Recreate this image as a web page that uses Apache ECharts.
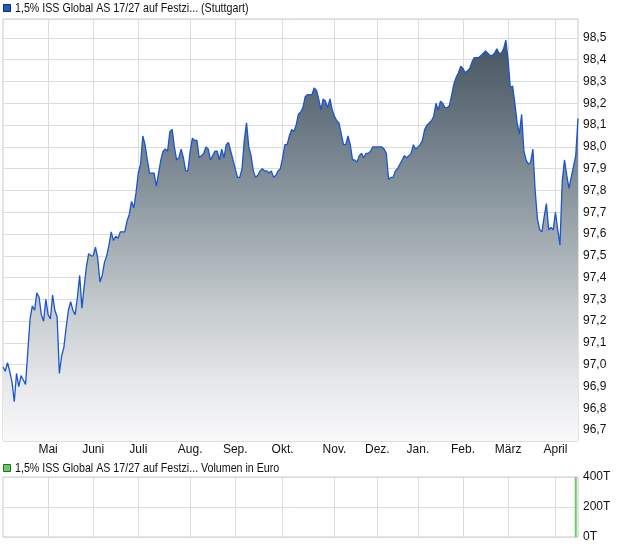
<!DOCTYPE html>
<html>
<head>
<meta charset="utf-8">
<script src="https://cdn.jsdelivr.net/npm/echarts/dist/echarts.min.js"></script>
<style>
html,body{margin:0;padding:0;background:#fff;}
#chart{width:620px;height:546px;}
</style>
</head>
<body>
<div id="chart"></div>
<script>
// ---- data ----
const seriesName = '1,5% ISS Global AS 17/27 auf Festzi... (Stuttgart)';
const volumeName = '1,5% ISS Global AS 17/27 auf Festzi... Volumen in Euro';

const priceValues = [
  96.99, 96.97, 97.01, 96.97, 96.92, 96.83, 96.96, 96.90, 96.95, 96.93,
  96.91, 97.06, 97.21, 97.27, 97.25, 97.33, 97.31, 97.23, 97.20, 97.30,
  97.23, 97.21, 97.32, 97.25, 97.22, 96.96, 97.04, 97.08, 97.17, 97.25,
  97.29, 97.25, 97.23, 97.31, 97.41, 97.26, 97.36, 97.45, 97.51, 97.50,
  97.50, 97.54, 97.49, 97.38, 97.41, 97.47, 97.50, 97.55, 97.61, 97.57,
  97.59, 97.58, 97.61, 97.61, 97.61, 97.66, 97.69, 97.75, 97.72, 97.79,
  97.88, 97.92, 98.05, 98.01, 97.94, 97.88, 97.88, 97.88, 97.82, 97.88,
  97.94, 97.98, 97.99, 97.98, 98.07, 98.08, 98.00, 97.94, 97.95, 97.99,
  97.95, 97.89, 97.89, 97.98, 98.04, 98.03, 98.03, 97.95, 97.96, 97.97,
  98.00, 97.99, 97.94, 97.96, 97.98, 97.98, 97.94, 97.99, 97.95, 98.01,
  98.02, 97.98, 97.94, 97.90, 97.86, 97.86, 97.90, 98.03, 98.11, 98.00,
  97.96, 97.89, 97.86, 97.87, 97.89, 97.90, 97.89, 97.89, 97.88, 97.89,
  97.86, 97.87, 97.89, 97.90, 97.95, 98.01, 98.01, 98.05, 98.08, 98.07,
  98.10, 98.15, 98.16, 98.18, 98.23, 98.24, 98.24, 98.24, 98.27, 98.26,
  98.22, 98.17, 98.22, 98.21, 98.18, 98.22, 98.17, 98.14, 98.12, 98.11,
  98.06, 98.01, 98.01, 98.05, 98.01, 97.94, 97.94, 97.93, 97.96, 97.97,
  97.95, 97.97, 97.97, 97.98, 98.00, 98.00, 98.00, 98.00, 98.00, 97.99,
  97.97, 97.85, 97.86, 97.86, 97.89, 97.90, 97.92, 97.94, 97.96, 97.95,
  97.96, 97.97, 98.01, 97.99, 98.00, 98.01, 98.03, 98.08, 98.10, 98.11,
  98.12, 98.14, 98.20, 98.17, 98.21, 98.20, 98.18, 98.18, 98.19, 98.24,
  98.29, 98.32, 98.34, 98.37, 98.36, 98.34, 98.35, 98.36, 98.39, 98.41,
  98.41, 98.41, 98.42, 98.43, 98.44, 98.43, 98.42, 98.42, 98.43, 98.45,
  98.43, 98.43, 98.45, 98.49, 98.40, 98.27, 98.28, 98.20, 98.11, 98.06,
  98.15, 97.98, 97.94, 97.92, 97.93, 97.99, 97.80, 97.67, 97.62, 97.61,
  97.68, 97.74, 97.62, 97.63, 97.62, 97.70, 97.62, 97.55, 97.84, 97.94,
  97.87, 97.81, 97.86, 97.91, 97.96, 98.13
];

// month labels and the trading-day index where each month starts
const monthLabels = ['Mai', 'Juni', 'Juli', 'Aug.', 'Sep.', 'Okt.', 'Nov.', 'Dez.', 'Jan.', 'Feb.', 'März', 'April'];
const monthStartIdx = [20, 40, 60, 83, 103, 124, 147, 166, 184, 204, 224, 245];

// volume (Euro): trading-day index and value
const volumeIdx = [254];
const volumeValues = [398000];

// price axis range and volume axis ticks
const priceMin = 96.65, priceMax = 98.587;
const volumeTicks = [0, 200000, 400000];

// ---- build ----
const days = priceValues.map((_, i) => 'T' + i);
const monthMap = {};
monthStartIdx.forEach((idx, k) => { monthMap[idx] = monthLabels[k]; });
const isMonth = (index) => Object.prototype.hasOwnProperty.call(monthMap, index);
const volumeData = days.map(() => 0);
volumeIdx.forEach((idx, k) => { volumeData[idx] = volumeValues[k]; });

const FONT = "'Liberation Sans', Arial, sans-serif";
const gridColor = '#dcdcdc';
const borderColor = '#c8c8c8';
const NARROW = 0.82;

const chart = echarts.init(document.getElementById('chart'), null, { renderer: 'canvas' });
chart.setOption({
  animation: false,
  backgroundColor: '#ffffff',
  textStyle: { fontFamily: FONT },
  graphic: [
    { type: 'rect', x: 3.5, y: 4.5, shape: { x: 0, y: 0, width: 7, height: 7 },
      style: { fill: '#1f5bc8', stroke: '#0b2d6e', lineWidth: 1 } },
    { type: 'text', x: 15, y: 8.5, scaleX: NARROW,
      style: { text: seriesName, fontFamily: FONT, fontSize: 13, fill: '#111', verticalAlign: 'middle', align: 'left' } },
    { type: 'rect', x: 3.5, y: 464.5, shape: { x: 0, y: 0, width: 7, height: 7 },
      style: { fill: '#66cc66', stroke: '#2a6a2a', lineWidth: 1 } },
    { type: 'text', x: 15, y: 468.5, scaleX: NARROW,
      style: { text: volumeName, fontFamily: FONT, fontSize: 13, fill: '#111', verticalAlign: 'middle', align: 'left' } }
  ],
  grid: [
    { left: 3, right: 42, top: 19, bottom: 105, show: true, borderColor: borderColor, borderWidth: 1, backgroundColor: 'transparent' },
    { left: 3, right: 42, top: 477, bottom: 9, show: true, borderColor: borderColor, borderWidth: 1, backgroundColor: 'transparent' }
  ],
  xAxis: [
    {
      type: 'category', gridIndex: 0, data: days, boundaryGap: false,
      axisLine: { show: false }, axisTick: { show: false },
      axisLabel: {
        interval: (i) => isMonth(i),
        formatter: (v, i) => monthMap[i] || '',
        fontFamily: FONT, fontSize: 12, color: '#111', margin: 3
      },
      splitLine: { show: true, interval: (i) => isMonth(i), lineStyle: { color: gridColor, width: 1 } }
    },
    {
      type: 'category', gridIndex: 1, data: days, boundaryGap: false,
      axisLine: { show: false }, axisTick: { show: false },
      axisLabel: { show: false },
      splitLine: { show: true, interval: (i) => isMonth(i), lineStyle: { color: gridColor, width: 1 } }
    }
  ],
  yAxis: [
    {
      type: 'value', gridIndex: 0, position: 'right',
      min: priceMin, max: priceMax, splitNumber: 19,
      axisLine: { show: false }, axisTick: { show: false },
      axisLabel: {
        showMinLabel: false, showMaxLabel: false,
        formatter: (v) => v.toFixed(1).replace('.', ','),
        fontFamily: FONT, fontSize: 12, color: '#111', margin: 5
      },
      splitLine: { show: true, lineStyle: { color: gridColor, width: 1 } }
    },
    {
      type: 'value', gridIndex: 1, position: 'right',
      min: volumeTicks[0], max: volumeTicks[volumeTicks.length - 1], interval: volumeTicks[1] - volumeTicks[0],
      axisLine: { show: false }, axisTick: { show: false },
      axisLabel: {
        formatter: (v) => (v / 1000) + 'T',
        fontFamily: FONT, fontSize: 12, color: '#111', margin: 5
      },
      splitLine: { show: true, lineStyle: { color: gridColor, width: 1 } }
    }
  ],
  series: [
    {
      name: seriesName, type: 'line', xAxisIndex: 0, yAxisIndex: 0,
      data: priceValues, showSymbol: false, symbol: 'none',
      lineStyle: { color: '#1a55cc', width: 1.3 },
      itemStyle: { color: '#1f5bc8' },
      areaStyle: {
        origin: 'start', opacity: 1,
        color: new echarts.graphic.LinearGradient(0, 0, 0, 1, [
          { offset: 0, color: '#46555f' },
          { offset: 0.15, color: '#5e6d78' },
          { offset: 0.4, color: '#8d99a1' },
          { offset: 0.65, color: '#c2c8cb' },
          { offset: 0.85, color: '#e5e7e9' },
          { offset: 1, color: '#f9f9fa' }
        ])
      },
      z: 3
    },
    {
      name: volumeName, type: 'bar', xAxisIndex: 1, yAxisIndex: 1,
      data: volumeData, barWidth: 2,
      itemStyle: { color: '#66cc66' }
    }
  ]
});
</script>
</body>
</html>
